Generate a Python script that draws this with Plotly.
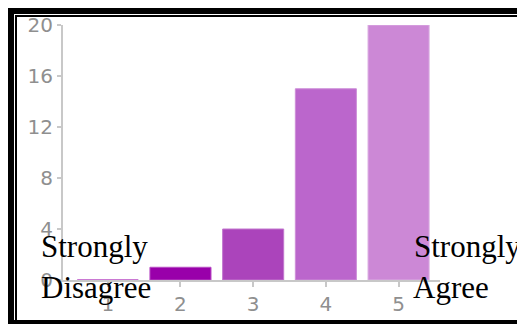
import plotly.graph_objects as go

W, H = 517, 324

categories = [1, 2, 3, 4, 5]
counts = [0, 1, 4, 15, 20]
bar_colors = ["#9900AA", "#9900AA", "#AB44BB", "#BB66CC", "#CC88D6"]
edge_colors = ["#B84DC4", "#B84DC4", "#C277CE", "#CD8FD8", "#DBAEE3"]
y_ticks = [0, 4, 8, 12, 16, 20]
x_ticks = [1, 2, 3, 4, 5]
left_label = ["Strongly", "Disagree"]
right_label = ["Strongly", "Agree"]


def px(x):
    return x / W


def py(y):
    return 1 - y / H


fig = go.Figure()
fig.add_trace(go.Bar(
    x=categories, y=counts, width=0.84,
    marker=dict(color=bar_colors, line=dict(color=edge_colors, width=1)),
    showlegend=False, hoverinfo="skip",
))

axis_gray = "#c8c8c8"
tick_font = dict(family="DejaVu Sans", size=20, color="#8f8f8f")

fig.update_layout(
    width=W, height=H,
    margin=dict(l=0, r=0, t=0, b=0, pad=0, autoexpand=False),
    paper_bgcolor="white", plot_bgcolor="white",
    bargap=0.16,
    xaxis=dict(
        domain=[px(63), px(440)], range=[0.384, 5.57],
        tickmode="array", tickvals=x_ticks, ticktext=[str(v) for v in x_ticks],
        showgrid=False, zeroline=False, showline=True,
        linecolor=axis_gray, linewidth=2,
        ticks="outside", ticklen=5, tickwidth=2, tickcolor=axis_gray,
        tickfont=tick_font,
    ),
    yaxis=dict(
        domain=[py(280), py(25)], range=[0, 20],
        tickmode="array", tickvals=y_ticks, ticktext=[str(v) for v in y_ticks],
        showgrid=False, zeroline=False, showline=True,
        linecolor=axis_gray, linewidth=2,
        ticks="outside", ticklen=4, tickwidth=2, tickcolor=axis_gray,
        tickfont=tick_font,
    ),
)

text_font = dict(family="Liberation Serif", size=31, color="black")
for txt, x0, ybase in [(left_label[0], 39, 257), (left_label[1], 39, 298),
                       (right_label[0], 412, 257), (right_label[1], 411, 298)]:
    fig.add_annotation(
        text=txt, xref="paper", yref="paper",
        x=px(x0), y=py(ybase - 10.5), xanchor="left", yanchor="middle",
        align="left", showarrow=False, font=text_font,
    )

# frame
frame = [
    (8, 8, W, 14),      # top thick
    (8, 8, 14, H),      # left thick
    (15, 15, W, 17),    # top thin
    (15, 15, 17, 322),  # left thin
    (8, 320, W, H),     # bottom
]
for x0, y0, x1, y1 in frame:
    fig.add_shape(type="rect", xref="paper", yref="paper",
                  x0=px(x0), x1=px(x1), y0=py(y1), y1=py(y0),
                  fillcolor="black", line=dict(width=0), layer="above")

fig.write_html(
    "out.html",
    config={"responsive": False, "displayModeBar": False},
    post_script="document.body.style.margin='0';document.body.style.overflow='hidden';",
)
